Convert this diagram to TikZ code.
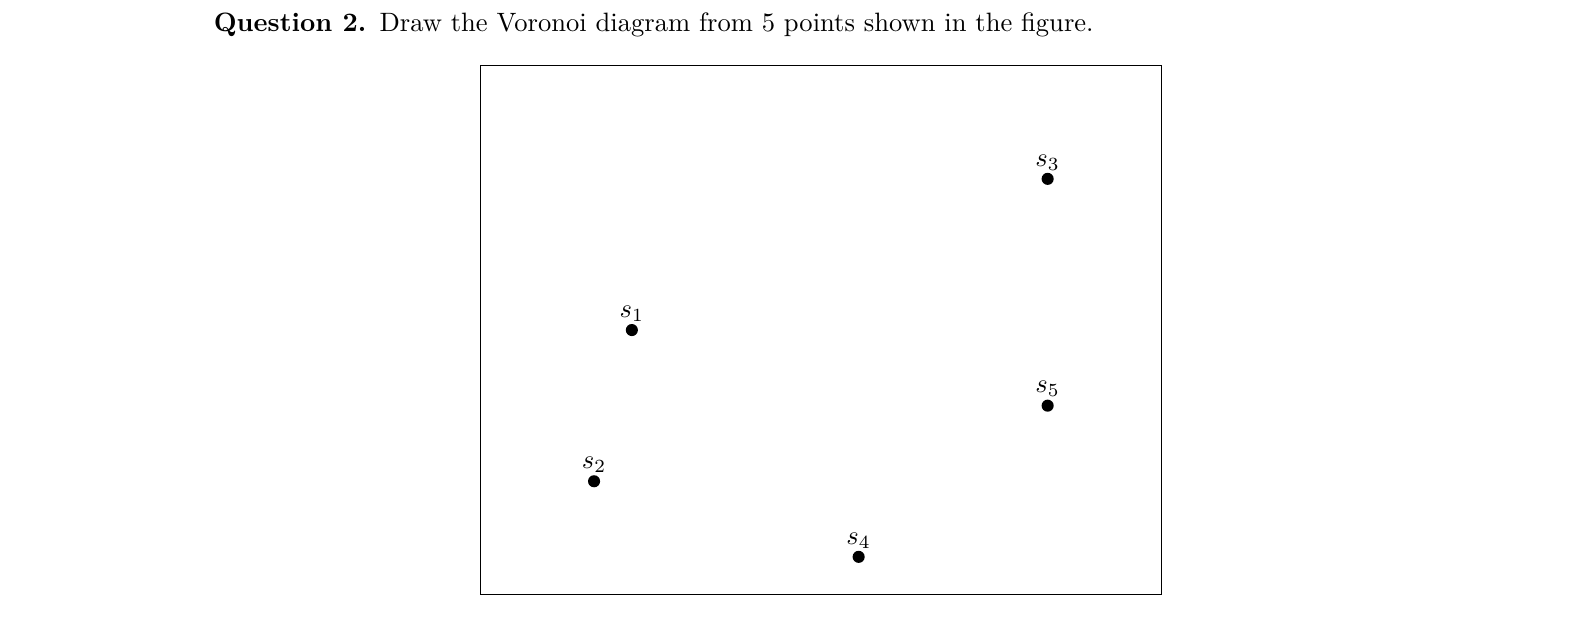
\documentclass[tikz,border=0pt]{standalone}
\begin{document}
\begin{tikzpicture}[
  site/.style={circle,fill=black,inner sep=0pt,minimum size=0.16cm},
  sitelabel/.style={inner sep=0.6pt}
]
\useasboundingbox (-6.358,-0.335) rectangle (14.489,7.866);
\node[anchor=base west,inner sep=0pt] (title) at (-3.537,7.447)
  {\textbf{Question 2.}\enskip Draw the Voronoi diagram from 5 points shown in the figure.};
\draw (0,0) rectangle (9,7);
\node[site,label={[sitelabel]above:$s_1$}] (s1) at (2,3.5) {};
\node[site,label={[sitelabel]above:$s_2$}] (s2) at (1.5,1.5) {};
\node[site,label={[sitelabel]above:$s_3$}] (s3) at (7.5,5.5) {};
\node[site,label={[sitelabel]above:$s_4$}] (s4) at (5,0.5) {};
\node[site,label={[sitelabel]above:$s_5$}] (s5) at (7.5,2.5) {};
\end{tikzpicture}
\end{document}
